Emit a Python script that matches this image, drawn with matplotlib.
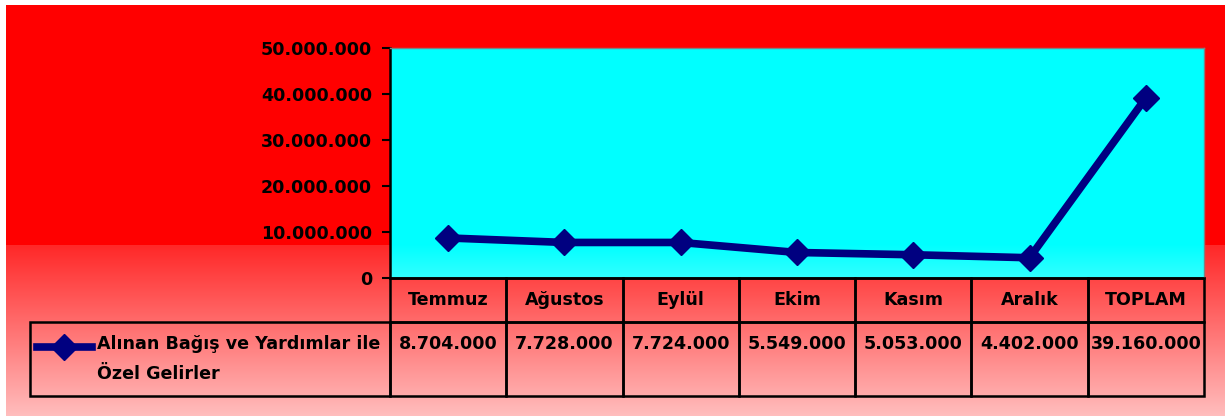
import numpy as np
import matplotlib.pyplot as plt
from matplotlib.lines import Line2D
from matplotlib.ticker import FuncFormatter

plt.rcParams["font.family"] = ["DejaVu Sans"]
plt.rcParams["font.weight"] = "bold"

months = ["Temmuz", "Ağustos", "Eylül", "Ekim", "Kasım", "Aralık", "TOPLAM"]
values = [8704000, 7728000, 7724000, 5549000, 5053000, 4402000, 39160000]
series_label = "Alınan Bağış ve Yardımlar ile\nÖzel Gelirler"
yticks = [0, 10000000, 20000000, 30000000, 40000000, 50000000]

W, H = 1230, 416
FS = 12.6
fig = plt.figure(figsize=(W / 100, H / 100), dpi=100)
fig.patch.set_facecolor("white")


def px_rect(x0, y0, x1, y1):
    # pixel box (top-left origin) -> figure fraction rect
    return [x0 / W, 1 - y1 / H, (x1 - x0) / W, (y1 - y0) / H]


def dots(v):
    return f"{int(v):,}".replace(",", ".")


# chart background: solid red, fading to pink near the bottom
bg = fig.add_axes(px_rect(6, 5, 1225, 416), zorder=0)
rows = np.arange(5, 416)
gb = np.where(rows < 245, 0, 40 + (rows - 245) * (190 - 40) / (416 - 245)) / 255
img = np.ones((len(rows), 1, 3))
img[:, 0, 1] = gb
img[:, 0, 2] = gb
bg.imshow(img, aspect="auto", extent=[0, 1, 0, 1], interpolation="bilinear")
bg.set_axis_off()

# plot area
ax = fig.add_axes(px_rect(390, 48, 1204, 278), zorder=2)
ax.patch.set_alpha(0)
prow = np.arange(48, 279)
r = np.where(prow < 245, 0, (prow - 245) * 50 / (278 - 245)) / 255
cyan = np.ones((len(prow), 1, 3))
cyan[:, 0, 0] = r
ax.imshow(cyan, aspect="auto", extent=[0, 1, 0, 1], transform=ax.transAxes,
          interpolation="bilinear", zorder=0)

x = np.arange(len(months))
ax.plot(x, values, color="#000080", lw=5.5, marker="D", ms=13,
        solid_joinstyle="round", zorder=3)

ax.set_xlim(-0.5, len(months) - 0.5)
ax.set_ylim(0, 50000000)
ax.set_yticks(yticks)
ax.yaxis.set_major_formatter(FuncFormatter(lambda v, p: dots(v)))
ax.tick_params(axis="y", labelsize=FS, length=6, width=1.5, pad=7, direction="out")
ax.set_xticks([])
for s in ["top", "right"]:
    ax.spines[s].set_color("#808080")
    ax.spines[s].set_linewidth(1)
ax.spines["left"].set_linewidth(1.8)
ax.spines["bottom"].set_linewidth(1.8)

# data table under the plot
cell_text = [[series_label] + [dots(v) + "\n " for v in values]]
col_w = [360] + [814 / 7] * 7
tb = ax.table(cellText=cell_text, colLabels=[""] + months, colWidths=col_w,
              cellLoc="center", bbox=[-360 / 814, -118 / 230, 1174 / 814, 118 / 230])
tb.auto_set_font_size(False)
tb.set_fontsize(FS)
for (rr, cc), cell in tb.get_celld().items():
    cell.set_facecolor("none")
    cell.set_linewidth(1.8)
    cell.get_text().set_fontweight("bold")
    cell.get_text().set_linespacing(1.85)
    cell.set_height(43 if rr == 0 else 73)
tb[(0, 0)].visible_edges = "open"
lab = tb[(1, 0)]
lab.get_text().set_ha("left")
lab.PAD = 67 / 360

# legend key inside the table
ky = 1 - 347 / H
fig.add_artist(Line2D([37 / W, 92 / W], [ky, ky], color="#000080", lw=5.5,
                      transform=fig.transFigure, zorder=5))
fig.add_artist(Line2D([64 / W], [ky], color="#000080", marker="D", ms=13, ls="none",
                      transform=fig.transFigure, zorder=5))

fig.savefig("out.png", dpi=100)
